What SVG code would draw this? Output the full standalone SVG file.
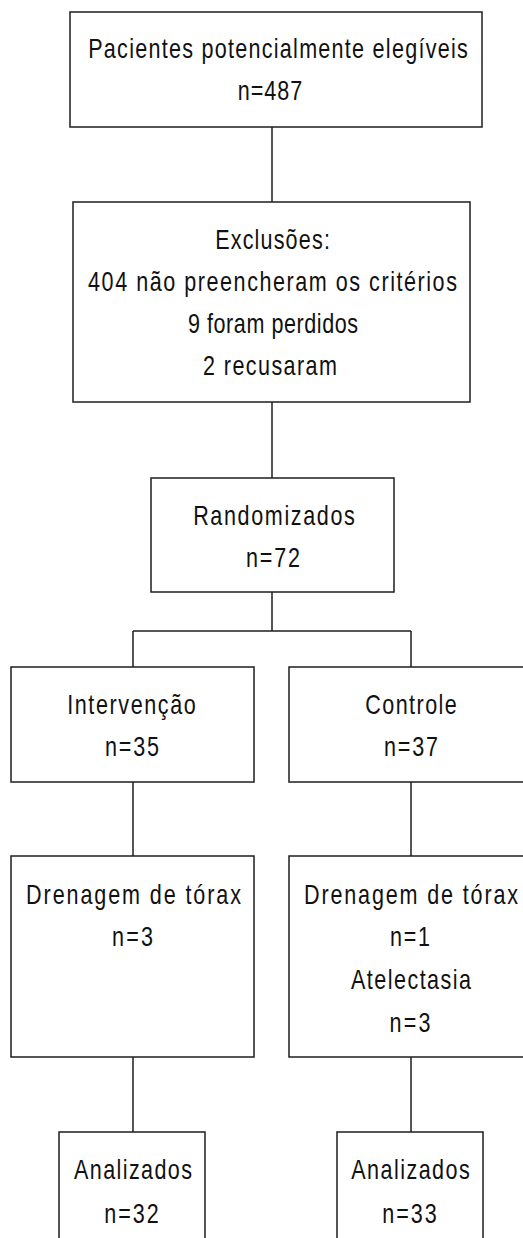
<svg xmlns="http://www.w3.org/2000/svg" width="523" height="1238" viewBox="0 0 523 1238">
<style>
rect{fill:#fff;stroke:#1e1e1e;stroke-width:1.5}
.c line{stroke:#1e1e1e;stroke-width:1.5}
text{font-family:"Liberation Sans",Arial,sans-serif;font-size:28px;fill:#111;text-anchor:middle}
</style>
<rect x="0" y="0" width="523" height="1238" style="stroke:none"/>
<g class="c" id="connectors">
<line x1="272" y1="127" x2="272" y2="202"/>
<line x1="272" y1="402" x2="272" y2="478"/>
<line x1="272" y1="592" x2="272" y2="631"/>
<line x1="133" y1="631" x2="411" y2="631"/>
<line x1="133" y1="631" x2="133" y2="667"/>
<line x1="411" y1="631" x2="411" y2="667"/>
<line x1="133" y1="782" x2="133" y2="856"/>
<line x1="411" y1="782" x2="411" y2="856"/>
<line x1="133" y1="1057" x2="133" y2="1132"/>
<line x1="411" y1="1057" x2="411" y2="1132"/>
</g>
<g id="n1">
<rect x="70" y="12" width="412" height="115"/>
<text transform="translate(278,58) scale(0.77,1)" textLength="493" lengthAdjust="spacing">Pacientes potencialmente elegíveis</text>
<text transform="translate(270,100) scale(0.77,1)" textLength="84" lengthAdjust="spacing">n=487</text>
</g>
<g id="n2">
<rect x="73" y="202" width="397" height="200"/>
<text transform="translate(272.5,249) scale(0.77,1)" textLength="149" lengthAdjust="spacing">Exclusões:</text>
<text transform="translate(272.5,291) scale(0.77,1)" textLength="479" lengthAdjust="spacing">404 não preencheram os critérios</text>
<text transform="translate(273,333) scale(0.77,1)" textLength="221" lengthAdjust="spacing">9 foram perdidos</text>
<text transform="translate(270,375) scale(0.77,1)" textLength="174" lengthAdjust="spacing">2 recusaram</text>
</g>
<g id="n3">
<rect x="151" y="478" width="243" height="114"/>
<text transform="translate(274,525) scale(0.77,1)" textLength="210" lengthAdjust="spacing">Randomizados</text>
<text transform="translate(273,567) scale(0.77,1)" textLength="70" lengthAdjust="spacing">n=72</text>
</g>
<g id="n4">
<rect x="11" y="667" width="243" height="115"/>
<text transform="translate(131.5,714) scale(0.77,1)" textLength="167" lengthAdjust="spacing">Intervenção</text>
<text transform="translate(132,756) scale(0.77,1)" textLength="70" lengthAdjust="spacing">n=35</text>
</g>
<g id="n5">
<rect x="289" y="667" width="236" height="115"/>
<text transform="translate(411,714) scale(0.77,1)" textLength="119" lengthAdjust="spacing">Controle</text>
<text transform="translate(411,756) scale(0.77,1)" textLength="70" lengthAdjust="spacing">n=37</text>
</g>
<g id="n6">
<rect x="11" y="856" width="243" height="201"/>
<text transform="translate(133.5,904) scale(0.77,1)" textLength="279" lengthAdjust="spacing">Drenagem de tórax</text>
<text transform="translate(132.5,946) scale(0.77,1)" textLength="53" lengthAdjust="spacing">n=3</text>
</g>
<g id="n7">
<rect x="289" y="856" width="236" height="201"/>
<text transform="translate(411,904) scale(0.77,1)" textLength="278" lengthAdjust="spacing">Drenagem de tórax</text>
<text transform="translate(410,946) scale(0.77,1)" textLength="52" lengthAdjust="spacing">n=1</text>
<text transform="translate(411,989) scale(0.77,1)" textLength="156" lengthAdjust="spacing">Atelectasia</text>
<text transform="translate(410,1032) scale(0.77,1)" textLength="53" lengthAdjust="spacing">n=3</text>
</g>
<g id="n8">
<rect x="59" y="1132" width="146" height="120"/>
<text transform="translate(133,1179) scale(0.77,1)" textLength="153" lengthAdjust="spacing">Analizados</text>
<text transform="translate(131.5,1223) scale(0.77,1)" textLength="71" lengthAdjust="spacing">n=32</text>
</g>
<g id="n9">
<rect x="337" y="1132" width="146" height="120"/>
<text transform="translate(410.5,1179) scale(0.77,1)" textLength="154" lengthAdjust="spacing">Analizados</text>
<text transform="translate(409.5,1223) scale(0.77,1)" textLength="71" lengthAdjust="spacing">n=33</text>
</g>
</svg>
